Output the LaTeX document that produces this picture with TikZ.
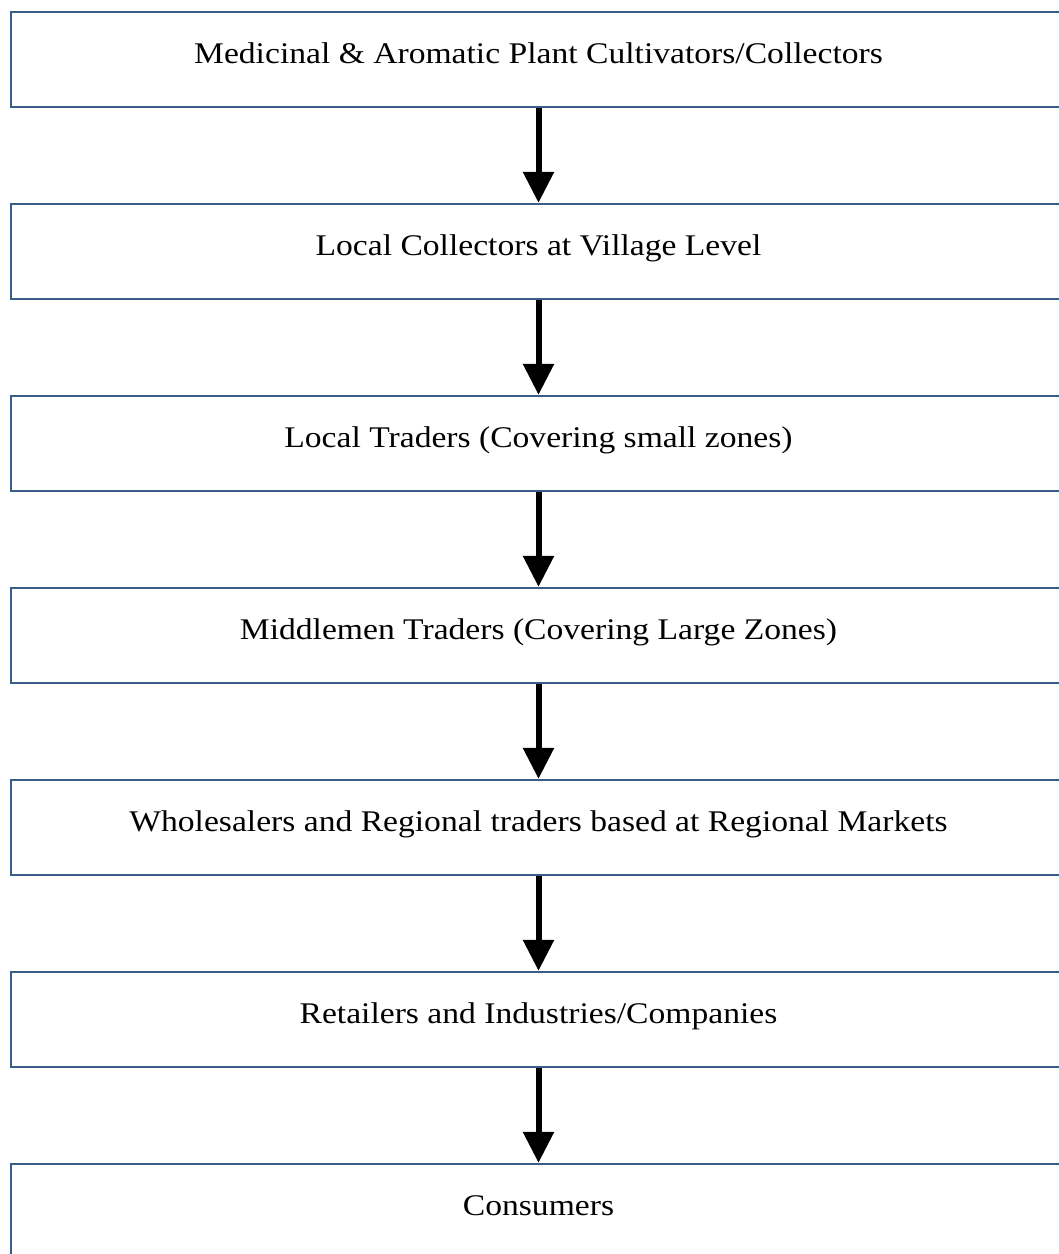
\documentclass[tikz,border=0pt]{standalone}
\usepackage{fontspec}
\setmainfont{Liberation Serif}[FakeStretch=1.12]
\usetikzlibrary{arrows.meta}
\definecolor{boxblue}{HTML}{385D8A}
\begin{document}
\begin{tikzpicture}[x=1pt,y=-1pt,
  flowbox/.style={draw=boxblue, line width=2.4pt, minimum width=1051pt, minimum height=95pt, inner sep=0pt, fill=white},
  flowtext/.style={anchor=base, inner sep=0pt, font=\fontsize{30}{36}\selectfont},
  flowarrow/.style={line width=6pt, -{Triangle[width=30pt,length=31pt]}}]
\useasboundingbox (0,0) rectangle (1059,1254);
\clip (0,0) rectangle (1059,1254);
\foreach \i/\t in {0/{Medicinal \& Aromatic Plant Cultivators/Collectors},
                   1/{Local Collectors at Village Level},
                   2/{Local Traders (Covering small zones)},
                   3/{Middlemen Traders (Covering Large Zones)},
                   4/{Wholesalers and Regional traders based at Regional Markets},
                   5/{Retailers and Industries/Companies},
                   6/{Consumers}} {
  \node[flowbox] (b\i) at (536.5, 59.5+192*\i) {};
  \node[flowtext] (t\i) at (538.5, 63+192*\i) {\t};
}
\foreach \i [evaluate=\i as \j using int(\i+1)] in {0,...,5} {
  \draw[flowarrow] ([xshift=2pt]b\i.south) -- ([xshift=2pt]b\j.north);
}
\end{tikzpicture}
\end{document}
